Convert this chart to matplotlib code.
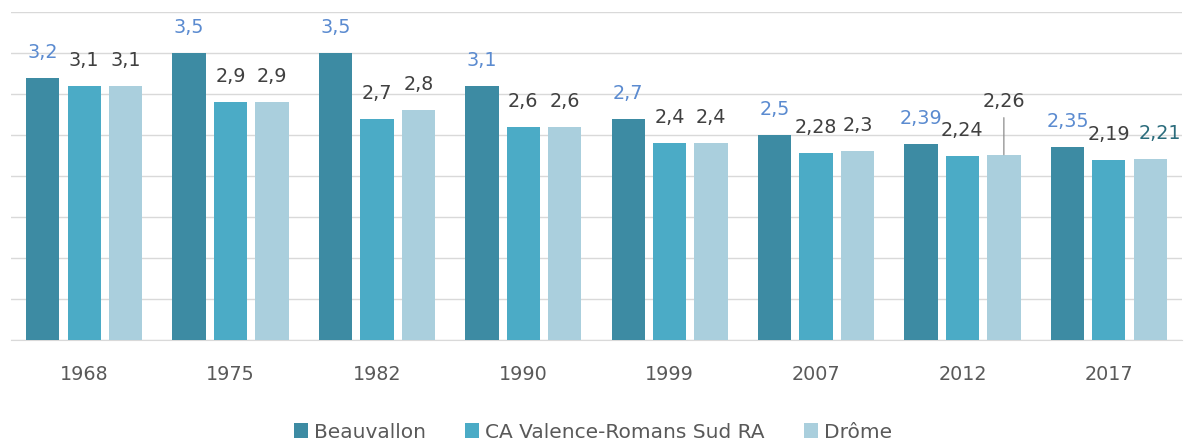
import matplotlib
matplotlib.use("Agg")
import matplotlib.pyplot as plt
import numpy as np

years = ["1968", "1975", "1982", "1990", "1999", "2007", "2012", "2017"]
series_names = ["Beauvallon", "CA Valence-Romans Sud RA", "Drôme"]
beauvallon = [3.2, 3.5, 3.5, 3.1, 2.7, 2.5, 2.39, 2.35]
ca_vrs = [3.1, 2.9, 2.7, 2.6, 2.4, 2.28, 2.24, 2.19]
drome = [3.1, 2.9, 2.8, 2.6, 2.4, 2.3, 2.26, 2.21]

colors = ["#3D8BA3", "#4BABC6", "#AACFDD"]
label_colors = ["#5B8BD0", "#404040", "#404040"]

plt.rcParams['font.family'] = ['DejaVu Sans']

fig = plt.figure(figsize=(11.86, 4.40), dpi=100)
ax = fig.add_axes([11/1186, 1 - 340/440, (1182 - 11)/1186, (340 - 12)/440])

x = np.arange(len(years))
pitch = 0.283
width = 0.228
all_series = [beauvallon, ca_vrs, drome]
for i, (vals, c) in enumerate(zip(all_series, colors)):
    xs = x + (i - 1) * pitch
    ax.bar(xs, vals, width=width, color=c, label=series_names[i], zorder=3)
    for j, (xx, v) in enumerate(zip(xs, vals)):
        txt = f"{v:g}".replace(".", ",")
        dx, dy = 0, 20
        col = label_colors[i]
        if i == 2 and j == 6:
            dy = 48
            ax.annotate("", xy=(xx, v), xytext=(0, 37), textcoords="offset pixels",
                        arrowprops=dict(arrowstyle="-", color="#8C8C8C", lw=0.9,
                                        shrinkA=0, shrinkB=0), zorder=4)
        if i == 2 and j == 7:
            dx = 10
            col = "#2B6C7C"
        ax.annotate(txt, xy=(xx, v), xytext=(dx, dy), textcoords="offset pixels",
                    ha="center", va="baseline", fontsize=13.8, color=col, zorder=5)

ax.set_xlim(-0.5, len(years) - 0.5)
ax.set_ylim(0, 4)
ax.set_yticks(np.arange(0, 4.01, 0.5))
ax.yaxis.grid(True, color="#D9D9D9", lw=1.0, zorder=0)
ax.tick_params(axis="y", left=False, labelleft=False)
ax.set_xticks(x)
ax.set_xticklabels(years, fontsize=13.8, color="#595959")
ax.tick_params(axis="x", length=0, pad=18)
for s in ["top", "right", "left"]:
    ax.spines[s].set_visible(False)
ax.spines["bottom"].set_color("#D9D9D9")

leg = fig.legend(loc="center", bbox_to_anchor=(0.5, 1 - 432/440), ncol=3, frameon=False,
                 fontsize=14.5, handlelength=0.7, handleheight=0.7, columnspacing=1.95,
                 handletextpad=0.3, labelcolor="#595959")

fig.savefig("out.png", dpi=100)
